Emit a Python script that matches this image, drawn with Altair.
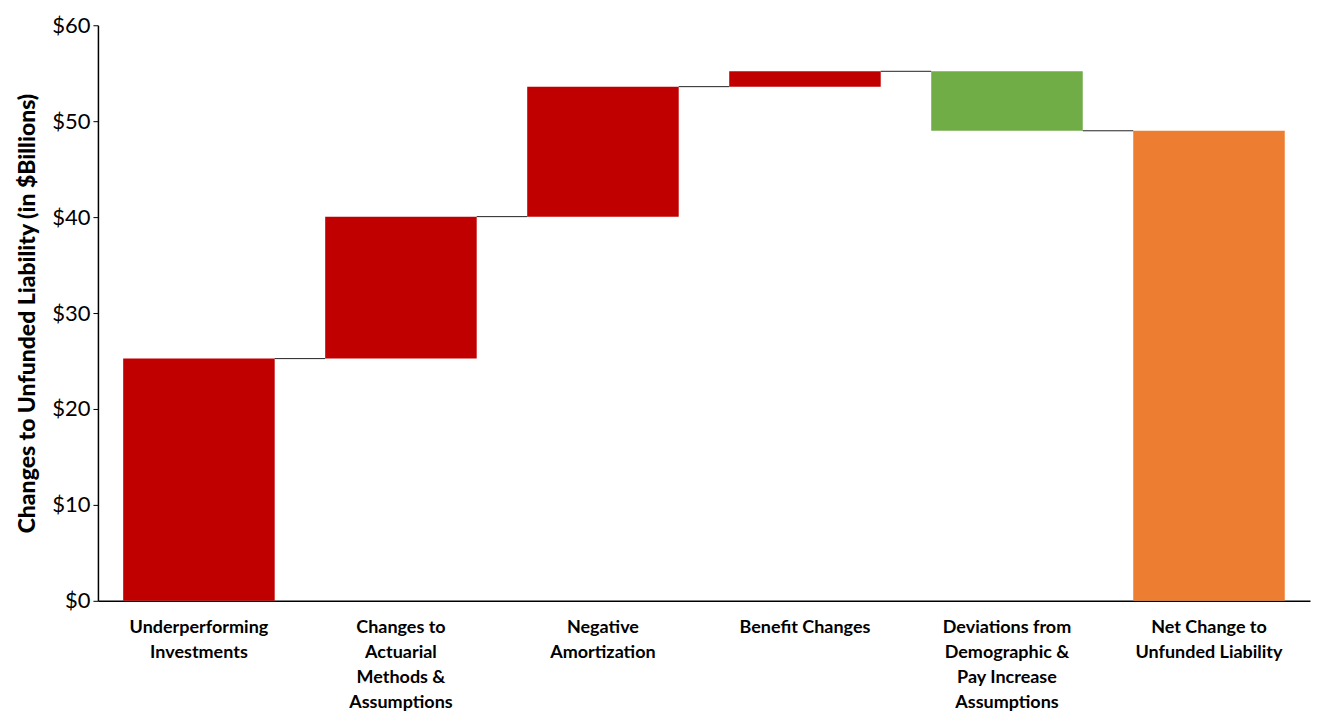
import altair as alt
import pandas as pd

categories = [
    "Underperforming\nInvestments",
    "Changes to\nActuarial\nMethods &\nAssumptions",
    "Negative\nAmortization",
    "Benefit Changes",
    "Deviations from\nDemographic &\nPay Increase\nAssumptions",
    "Net Change to\nUnfunded Liability",
]
changes = [25.25, 14.8, 13.55, 1.6, -6.2]
kinds = ["increase", "increase", "increase", "increase", "decrease", "total"]
kind_colors = {"increase": "#C00000", "decrease": "#70AD47", "total": "#ED7D31"}

ends = []
starts = []
level = 0.0
for c in changes:
    starts.append(level)
    level += c
    ends.append(level)
starts.append(0.0)
ends.append(level)

df = pd.DataFrame({"cat": categories, "start": starts, "end": ends, "kind": kinds})
conn = pd.DataFrame({
    "from": categories[:-1],
    "to": categories[1:],
    "level": ends[:-1],
})

FONT = "Lato"

xscale = alt.Scale(domain=categories, paddingInner=0.25, paddingOuter=0.125)

bars = alt.Chart(df).mark_bar().encode(
    x=alt.X("cat:N", sort=None, scale=xscale,
            axis=alt.Axis(title=None, labelAngle=0, labelExpr="split(datum.label, '\\n')",
                          labelFont=FONT, labelFontSize=18, labelFontWeight="bold",
                          labelColor="black", labelLineHeight=25, labelPadding=18,
                          labelBaseline="top", ticks=False, domainColor="black",
                          domainWidth=1.5, labelLimit=300)),
    y=alt.Y("start:Q", scale=alt.Scale(domain=[0, 60]),
            axis=alt.Axis(title="Changes to Unfunded Liability (in $Billions)",
                          values=[0, 10, 20, 30, 40, 50, 60], format="$,.0f",
                          grid=False, labelFont=FONT, labelFontSize=22, labelColor="black",
                          titleFont=FONT, titleFontSize=23, titleFontWeight=900,
                          titleColor="black", titlePadding=12, tickColor="black",
                          tickSize=5, domainColor="black", domainWidth=1.5, labelPadding=3)),
    y2="end:Q",
    color=alt.Color("kind:N", scale=alt.Scale(domain=list(kind_colors.keys()),
                                              range=list(kind_colors.values())), legend=None),
)

lines = alt.Chart(conn).mark_rule(color="#222222", strokeWidth=1).encode(
    x=alt.X("from:N", sort=None, scale=xscale, bandPosition=1),
    x2=alt.X2("to:N", bandPosition=0),
    y="level:Q",
)

chart = alt.layer(bars, lines).properties(
    width=1213, height=576, padding={"left": 8, "top": 6, "right": 2, "bottom": 5}
).configure(background="white").configure_view(stroke=None, strokeWidth=0)

chart.save("out.html", embed_options={"renderer": "svg", "actions": False})
